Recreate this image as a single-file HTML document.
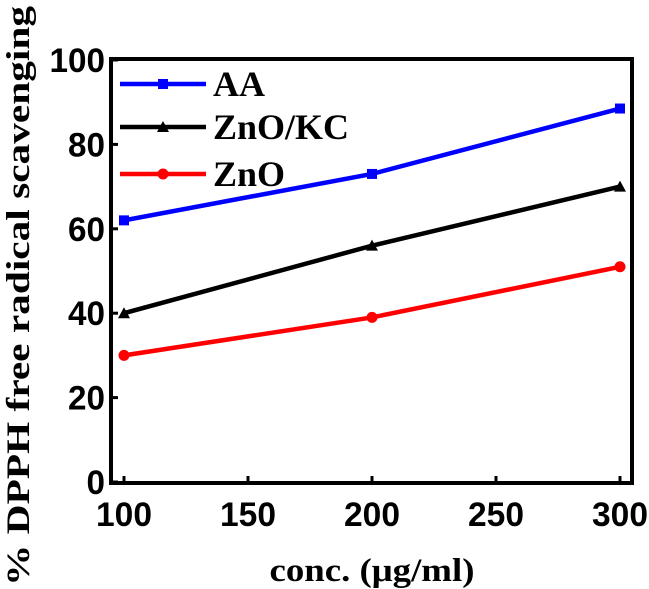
<!DOCTYPE html>
<html><head><meta charset="utf-8"><style>
body{margin:0;background:#fff}
svg{display:block}
.t{font-family:"Liberation Sans",Arial,sans-serif;font-weight:bold;font-size:34px}
.s{font-family:"Liberation Serif","Times New Roman",serif;font-weight:bold}
</style></head><body>
<svg id="c" width="649" height="589">
</svg>
<script>
const categories=[100,200,300];
const aa=[62,73,88.5];
const znokc=[40,56,70];
const zno=[30,39,51];
const xTicks=[100,150,200,250,300];
const yTicks=[0,20,40,60,80,100];
const X0=111,X1=632,Y0=483,Y1=59;
const xs=v=>124+(v-100)*(620-124)/200;
const ys=v=>482+(60-482)*v/100;
const svg=document.getElementById('c');
const NS='http://www.w3.org/2000/svg';
function mk(t,a,p){const e=document.createElementNS(NS,t);for(const k in a)e.setAttribute(k,a[k]);(p||svg).appendChild(e);return e;}
const box=mk('rect',{x:X0,y:Y1,width:X1-X0,height:Y0-Y1,fill:'none',stroke:'#000','stroke-width':4});


xTicks.forEach(v=>{
 const l=mk('line',{x1:xs(v),x2:xs(v),y1:Y0,y2:Y0-7,stroke:'#000','stroke-width':3});
 
 
 const t=mk('text',{x:xs(v),y:Y0+43,'text-anchor':'middle',class:'t',textLength:56,lengthAdjust:'spacingAndGlyphs'});t.textContent=v;
 
 
});
yTicks.forEach(v=>{
 const l=mk('line',{x1:X0,x2:X0+7,y1:ys(v),y2:ys(v),stroke:'#000','stroke-width':3});
 
 
 const n=String(v).length;
 const t=mk('text',{x:X0-6,y:ys(v)+12,'text-anchor':'end',class:'t',textLength:n*18.5,lengthAdjust:'spacingAndGlyphs'});t.textContent=v;
 
 
});
function marker(type,x,y,color){
 let m;
 if(type==='sq')m=mk('rect',{x:x-5,y:y-5,width:10,height:10,fill:color});
 else if(type==='tri')m=mk('polygon',{points:`${x},${y-6} ${x-6},${y+5} ${x+6},${y+5}`,fill:color});
 else m=mk('circle',{cx:x,cy:y,r:5.5,fill:color});
 return m;
}
const series=[[aa,'#0000ff','sq','AA','series-aa'],[znokc,'#000','tri','ZnO/KC','series-zno-kc'],[zno,'#ff0000','ci','ZnO','series-zno']];
series.forEach(([d,c,m,name,dn],i)=>{
 const pl=mk('polyline',{points:d.map((v,j)=>xs(categories[j])+','+ys(v)).join(' '),fill:'none',stroke:c,'stroke-width':4.5});
 
 
 d.forEach((v,j)=>{const p=marker(m,xs(categories[j]),ys(v),c);
  
  });
 const ly=[84,127,174][i];
 const ll=mk('line',{x1:120,x2:206,y1:ly,y2:ly,stroke:c,'stroke-width':4.5});
 
 
 const lm=marker(m,163,ly,c);
 
 
 const lt=mk('text',{x:213,y:ly+12,class:'s','font-size':36});lt.textContent=name;
 
 
});
const xt=mk('text',{x:372,y:581,'text-anchor':'middle',class:'s','font-size':33,textLength:205,lengthAdjust:'spacingAndGlyphs'});xt.textContent='conc. (μg/ml)';


const yt=mk('text',{x:0,y:0,'text-anchor':'middle',class:'s','font-size':33,textLength:580,lengthAdjust:'spacingAndGlyphs',transform:'translate(29,296) rotate(-90)'});yt.textContent='% DPPH free radical scavenging';


</script>
</body></html>
